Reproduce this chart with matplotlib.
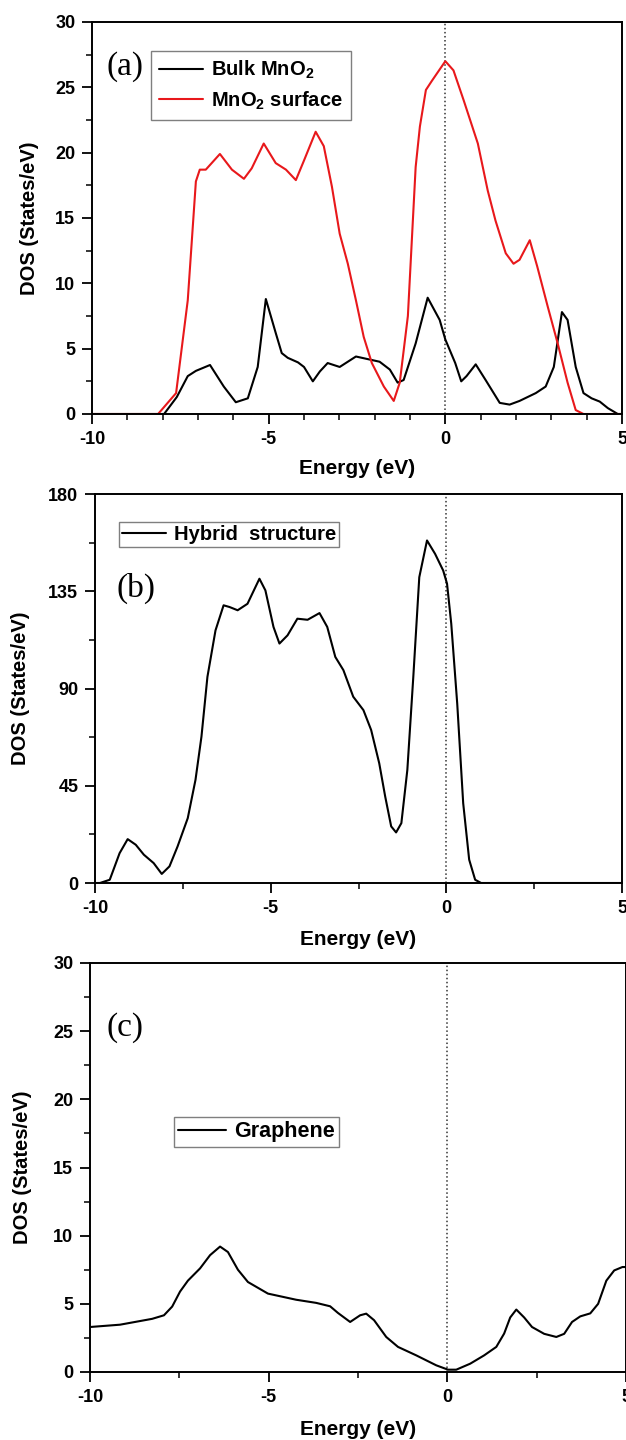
import numpy as np
import matplotlib
matplotlib.use("Agg")
import matplotlib.pyplot as plt
from matplotlib.ticker import MultipleLocator

plt.rcParams['font.family'] = ['Liberation Sans', 'DejaVu Sans']
plt.rcParams['font.weight'] = 'bold'
plt.rcParams['axes.unicode_minus'] = False
plt.rcParams['mathtext.fontset'] = 'custom'
plt.rcParams['mathtext.rm'] = 'Liberation Sans:bold'
plt.rcParams['mathtext.bf'] = 'Liberation Sans:bold'

# Panel (a): bulk MnO2 vs MnO2 surface
bulk_e = [-10, -7.96, -7.6, -7.29, -7.06, -6.66, -6.27, -5.93, -5.59, -5.31, -5.08,
          -4.8, -4.63, -4.46, -4.17, -4.0, -3.75, -3.55, -3.33, -2.99, -2.53, -1.86,
          -1.57, -1.35, -1.18, -0.84, -0.5, -0.16, 0.0, 0.28, 0.45, 0.6, 0.86, 1.14,
          1.54, 1.82, 2.1, 2.56, 2.84, 3.07, 3.3, 3.46, 3.69, 3.91, 4.14, 4.37, 4.6,
          4.88, 5.0]
bulk_dos = [0, 0, 1.3, 2.9, 3.3, 3.75, 2.1, 0.9, 1.2, 3.6, 8.8,
            6.2, 4.66, 4.3, 3.95, 3.6, 2.5, 3.26, 3.9, 3.6, 4.4, 4.0,
            3.4, 2.4, 2.6, 5.4, 8.9, 7.2, 5.7, 3.9, 2.5, 2.9, 3.8, 2.6,
            0.85, 0.72, 1.0, 1.6, 2.1, 3.6, 7.8, 7.2, 3.6, 1.6, 1.2, 0.95, 0.45,
            0, 0]
surf_e = [-10, -8.13, -7.62, -7.29, -7.06, -6.95, -6.78, -6.38, -6.04, -5.7, -5.48,
          -5.14, -4.8, -4.51, -4.23, -4.0, -3.67, -3.44, -3.21, -2.99, -2.76, -2.53,
          -2.31, -2.08, -1.74, -1.46, -1.29, -1.06, -0.84, -0.72, -0.55, -0.38, 0.0,
          0.23, 0.52, 0.92, 1.2, 1.42, 1.71, 1.93, 2.1, 2.39, 2.6, 2.9, 3.18, 3.46,
          3.69, 3.91, 5.0]
surf_dos = [0, 0, 1.6, 8.7, 17.8, 18.7, 18.7, 19.9, 18.7, 18.0, 18.8,
            20.7, 19.2, 18.7, 17.9, 19.4, 21.6, 20.5, 17.4, 13.8, 11.5, 8.7,
            5.9, 3.9, 2.1, 1.0, 2.4, 7.5, 18.9, 22.0, 24.8, 25.5, 27.0,
            26.3, 24.0, 20.7, 17.1, 14.8, 12.3, 11.5, 11.8, 13.3, 11.3, 8.2, 5.4, 2.4,
            0.3, 0, 0]

# Panel (b): hybrid structure
hyb_e = [-10, -9.86, -9.58, -9.3, -9.07, -8.84, -8.61, -8.33, -8.1, -7.88, -7.65,
         -7.36, -7.14, -6.97, -6.8, -6.57, -6.34, -6.17, -5.94, -5.66, -5.32, -5.15,
         -4.92, -4.75, -4.52, -4.24, -3.95, -3.61, -3.39, -3.16, -2.93, -2.65, -2.36,
         -2.14, -1.91, -1.74, -1.57, -1.43, -1.28, -1.11, -0.94, -0.77, -0.55, -0.32,
         -0.09, 0.02, 0.14, 0.31, 0.48, 0.65, 0.82, 0.99, 5.0]
hyb_dos = [0, 0, 1.5, 13.8, 20.3, 17.7, 13.1, 9.2, 4.2, 7.7, 16.9,
           30, 47.7, 67.7, 95.4, 116.9, 128.5, 127.7, 126.2, 129.2, 140.8, 135.4,
           118.5, 110.8, 114.6, 122.3, 121.8, 124.9, 118.5, 104.6, 98.5, 86.2, 80,
           70.8, 55.4, 40, 26.2, 23.4, 27.7, 52.3, 95.4, 141.5, 158.5, 152.3,
           144.6, 138.5, 120, 83, 36.9, 10.8, 1.5, 0, 0]

# Panel (c): graphene
gr_e = [-10, -9.16, -8.26, -7.93, -7.7, -7.48, -7.26, -6.92, -6.64, -6.36, -6.14,
        -5.86, -5.58, -5.02, -4.23, -3.67, -3.28, -3.06, -2.72, -2.44, -2.27, -2.05,
        -1.71, -1.38, -0.87, -0.31, 0.02, 0.25, 0.64, 1.03, 1.37, 1.59, 1.76, 1.93,
        2.15, 2.37, 2.71, 3.05, 3.27, 3.49, 3.72, 4.0, 4.22, 4.45, 4.67, 4.9, 5.0]
gr_dos = [3.3, 3.47, 3.9, 4.16, 4.8, 5.9, 6.7, 7.6, 8.57, 9.2, 8.8,
          7.5, 6.6, 5.75, 5.3, 5.07, 4.82, 4.33, 3.67, 4.16, 4.28, 3.8,
          2.57, 1.84, 1.22, 0.49, 0.17, 0.17, 0.61, 1.22, 1.84, 2.82, 4.0, 4.58,
          4.0, 3.3, 2.8, 2.57, 2.8, 3.67, 4.08, 4.3, 5.0, 6.7, 7.45, 7.7, 7.7]

W, H = 626, 1440
fig = plt.figure(figsize=(W / 100, H / 100), dpi=100)


def px_axes(left, right, top, bottom):
    return fig.add_axes([left / W, 1 - bottom / H, (right - left) / W, (bottom - top) / H])


ax_a = px_axes(92, 622, 22, 414)
ax_b = px_axes(95, 622, 494, 883)
ax_c = px_axes(90, 626, 963, 1372)

RED = '#e8181b'


def style(ax, ymax, ymaj, ymin, xmin_step, ylab_x, xlab_y):
    ax.set_xlim(-10, 5)
    ax.set_ylim(0, ymax)
    ax.xaxis.set_major_locator(MultipleLocator(5))
    ax.xaxis.set_minor_locator(MultipleLocator(xmin_step))
    ax.yaxis.set_major_locator(MultipleLocator(ymaj))
    ax.yaxis.set_minor_locator(MultipleLocator(ymin))
    ax.tick_params(which='major', direction='out', length=7, width=1.3,
                   labelsize=13, pad=5)
    ax.tick_params(which='minor', direction='out', length=4, width=1.1)
    for lab in ax.get_xticklabels() + ax.get_yticklabels():
        lab.set_fontweight('bold')
    for sp in ax.spines.values():
        sp.set_linewidth(1.4)
    ax.axvline(0, color='#333333', linestyle=':', linewidth=1.1, zorder=1)
    ax.set_xlabel('Energy (eV)', fontsize=15, fontweight='bold')
    ax.set_ylabel('DOS (States/eV)', fontsize=14.5, fontweight='bold')
    ax.xaxis.set_label_coords(0.5, xlab_y)
    ax.yaxis.set_label_coords(ylab_x, 0.5)


def legend(ax, x, y, size, pad, spacing=0.2):
    leg = ax.legend(loc='upper left', bbox_to_anchor=(x, y), borderaxespad=0,
                    fancybox=False, edgecolor='#7f7f7f', framealpha=1,
                    prop={'family': 'Liberation Sans', 'weight': 'bold', 'size': size},
                    handlelength=2.2, handletextpad=0.4, borderpad=pad,
                    labelspacing=spacing)
    leg.get_frame().set_linewidth(1.0)


def panel_tag(ax, txt, x, y):
    ax.text(x, y, txt, transform=ax.transAxes, ha='left', va='center',
            fontsize=24, family='Liberation Serif', fontweight='normal')


LW = dict(lw=1.5, solid_joinstyle='round', solid_capstyle='round')

# (a)
ax_a.plot(bulk_e, bulk_dos, color='black', label='Bulk MnO$_{2}$', **LW)
ax_a.plot(surf_e, surf_dos, color=RED, label='MnO$_{2}$ surface', **LW)
style(ax_a, 30, 5, 2.5, 1, -0.1, -0.115)
legend(ax_a, 0.111, 0.926, 14.5, 0.4, 0.4)
panel_tag(ax_a, '(a)', 0.028, 0.885)

# (b)
ax_b.plot(hyb_e, hyb_dos, color='black', label='Hybrid  structure', **LW)
style(ax_b, 180, 45, 22.5, 2.5, -0.123, -0.12)
legend(ax_b, 0.045, 0.929, 14.5, 0.15)
panel_tag(ax_b, '(b)', 0.04, 0.757)

# (c)
ax_c.plot(gr_e, gr_dos, color='black', label='Graphene', **LW)
style(ax_c, 30, 5, 2.5, 2.5, -0.108, -0.117)
legend(ax_c, 0.157, 0.623, 15.5, 0.2)
panel_tag(ax_c, '(c)', 0.03, 0.843)

fig.savefig('out.png', dpi=100)
